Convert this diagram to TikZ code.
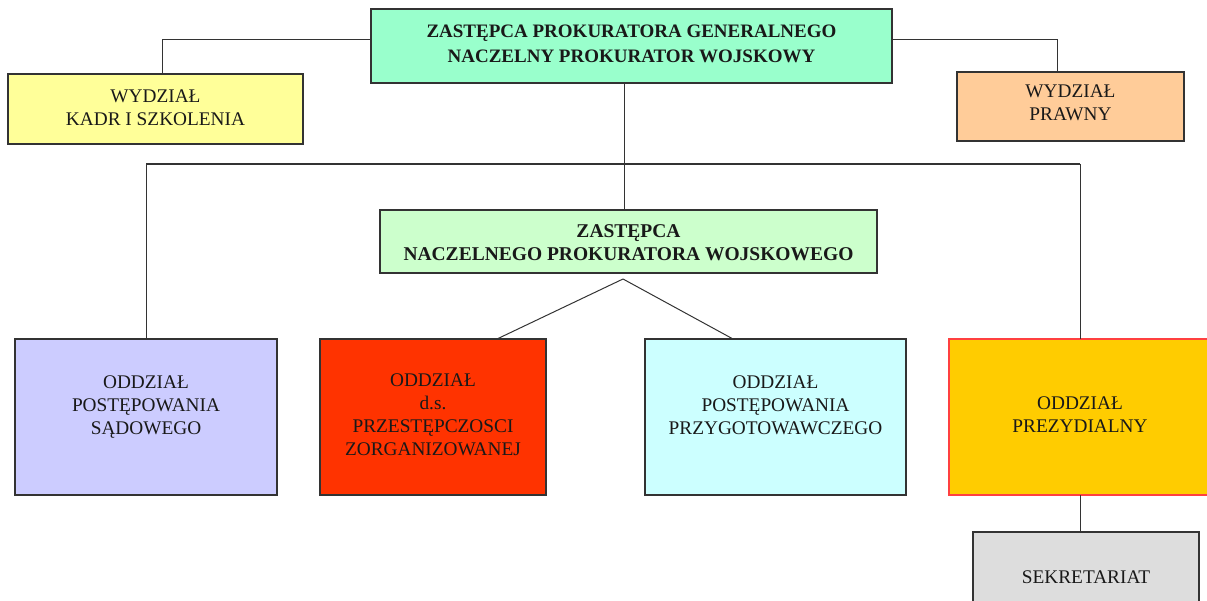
\documentclass[tikz,border=0pt]{standalone}
\usepackage{fontspec}
\setmainfont{Liberation Serif}
\definecolor{linec}{HTML}{333333}
\definecolor{ctop}{HTML}{99FFCC}
\definecolor{ckadr}{HTML}{FFFF99}
\definecolor{cpraw}{HTML}{FFCC99}
\definecolor{cmid}{HTML}{CCFFCC}
\definecolor{csad}{HTML}{CCCCFF}
\definecolor{czorg}{HTML}{FF3300}
\definecolor{cprzyg}{HTML}{CCFFFF}
\definecolor{cprez}{HTML}{FFCC00}
\definecolor{cprezb}{HTML}{FF4040}
\definecolor{csekr}{HTML}{DDDDDD}
\begin{document}
\begin{tikzpicture}[x=1pt,y=-1pt,
  box/.style={draw=linec, line width=1.2pt, inner sep=0pt, outer sep=0pt},
  lbl/.style={font=\fontsize{19.3}{23}\selectfont, align=center, inner sep=0pt, text=black!90},
  blbl/.style={font=\fontsize{19}{24.5}\selectfont\bfseries, align=center, inner sep=0pt, text=black!90},
  conn/.style={draw=linec, line width=1pt}]
\useasboundingbox (0,0) rectangle (1207,601);
% boxes
\node[box, fill=ctop, minimum width=521pt, minimum height=74pt] (top) at (631.5,46) {};
\node[box, fill=ckadr, minimum width=295pt, minimum height=70pt] (kadr) at (155.5,109) {};
\node[box, fill=cpraw, minimum width=227pt, minimum height=69pt] (prawny) at (1070.5,106.5) {};
\node[box, fill=cmid, minimum width=497pt, minimum height=63pt] (mid) at (628.5,241.5) {};
\node[box, fill=csad, minimum width=262pt, minimum height=156pt] (sad) at (146,417) {};
\node[box, fill=czorg, minimum width=226pt, minimum height=156pt] (zorg) at (433,417) {};
\node[box, fill=cprzyg, minimum width=261pt, minimum height=156pt] (przyg) at (775.5,417) {};
\node[box, draw=cprezb, fill=cprez, minimum width=263pt, minimum height=156pt] (prez) at (1080.5,417) {};
\node[box, fill=csekr, minimum width=226pt, minimum height=80pt] (sekr) at (1086,572) {};
% labels
\node[blbl] (ttop) at (631.5,44) {ZASTĘPCA PROKURATORA GENERALNEGO\\NACZELNY PROKURATOR WOJSKOWY};
\node[lbl] (tkadr) at (155.5,108) {WYDZIAŁ\\KADR I SZKOLENIA};
\node[lbl] (tpraw) at (1070.5,103) {WYDZIAŁ\\PRAWNY};
\node[blbl, font=\fontsize{19.5}{23}\selectfont\bfseries] (tmid) at (628.5,243) {ZASTĘPCA\\NACZELNEGO PROKURATORA WOJSKOWEGO};
\node[lbl] (tsad) at (146,407) {ODDZIAŁ\\POSTĘPOWANIA\\SĄDOWEGO};
\node[lbl] (tzorg) at (433,415) {ODDZIAŁ\\d.s.\\PRZESTĘPCZOSCI\\ZORGANIZOWANEJ};
\node[lbl] (tprzyg) at (775.5,405) {ODDZIAŁ\\POSTĘPOWANIA\\PRZYGOTOWAWCZEGO};
\node[lbl] (tprez) at (1080,415) {ODDZIAŁ\\PREZYDIALNY};
\node[lbl] (tsekr) at (1086,577) {SEKRETARIAT};
% connectors
\coordinate (busL) at (146,164);
\coordinate (busR) at (1080,164);
\coordinate (apex) at (623,279);
\draw[conn] ([yshift=6pt]top.west) -| ([xshift=6.5pt]kadr.north);
\draw[conn] ([yshift=6pt]top.east) -| ([xshift=-13.5pt]prawny.north);
\draw[conn] ([xshift=-7.5pt]top.south) -- ([xshift=-7.5pt]top.south |- mid.north);
\draw[conn, line width=1.6pt] (busL) -- (busR);
\draw[conn] (busL) -- (sad.north);
\draw[conn] (busR) -- (busR |- prez.north);
\draw[conn] (apex) -- ([xshift=64pt]zorg.north);
\draw[conn] (apex) -- ([xshift=-42.5pt]przyg.north);
\draw[conn] (prez.south) -- (prez.south |- sekr.north);
\end{tikzpicture}
\end{document}
